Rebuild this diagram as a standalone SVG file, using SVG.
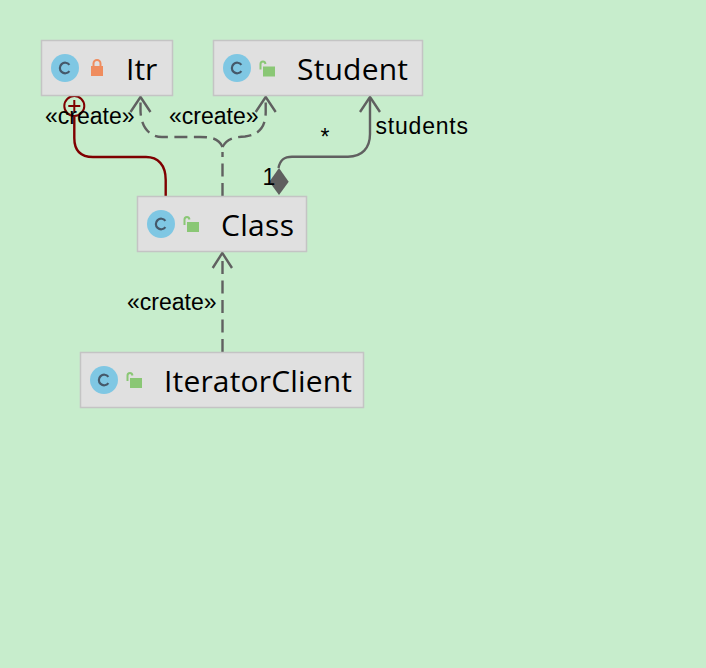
<svg xmlns="http://www.w3.org/2000/svg" width="706" height="668" viewBox="0 0 706 668">
<style>
.box{fill:#e0e0e0;stroke:#c4c4c4;stroke-width:1.5}
.title{font-family:"Open Sans","Noto Sans","Liberation Sans",sans-serif;font-size:30px;fill:#000}
.lbl{font-family:"Liberation Sans",Arial,sans-serif;font-size:23px;fill:#000}
.dep{fill:none;stroke:#606060;stroke-width:2.4;stroke-dasharray:13 6.5}
.sol{fill:none;stroke:#606060;stroke-width:2.4}
.head{fill:none;stroke:#606060;stroke-width:2.4}
.inner{fill:none;stroke:#7f0000;stroke-width:2.4}
</style>
<defs>
<g id="cicon">
<circle cx="0" cy="0" r="14" fill="#7fc7e3"/>
<path d="M4.400 -3.200A5.300 5.300 0 1 0 4.400 3.200" fill="none" stroke="#45596a" stroke-width="2.200"/>
</g>
<g id="open">
<rect x="0" y="0" width="12" height="10" fill="#8ac775"/>
<path d="M-2.500 3V-2.500Q-2.500 -5 0 -5Q2 -5 2.500 -2.500" fill="none" stroke="#8ac775" stroke-width="2"/>
</g>
<g id="lock">
<rect x="0" y="0" width="12" height="10" fill="#ef8c5e"/>
<path d="M2.500 0V-2.500A3.500 3.500 0 0 1 9.500 -2.500V0" fill="none" stroke="#ef8c5e" stroke-width="2"/>
</g>
</defs>
<rect width="706" height="668" fill="#c7edcc"/>
<g id="connectors">
<path class="inner" d="M74.300 117V138C74.300 150 80 157 93 157H146C158 157 165.700 165 165.700 180V196"/>
<circle cx="74.300" cy="106" r="10" fill="none" stroke="#7f0000" stroke-width="2"/>
<path d="M74.300 100V112M68.300 106H80.300" fill="none" stroke="#7f0000" stroke-width="2"/>
<path class="dep" d="M222.500 196V152"/>
<path class="dep" d="M222.500 147C220 141 216 137 200 137H162C148 137 140.500 125 140.500 110V97"/>
<path class="dep" d="M222.500 147C226 140 232 137 245 136.500C258 135 265.700 128 265.700 112V97"/>
<path class="head" d="M130.500 112L140.500 97L150.500 112"/>
<path class="head" d="M255.700 112L265.700 97L275.700 112"/>
<path class="sol" d="M278.500 168C280 160 284 156.700 292 156.700H348C362 156.700 370 148 370 134V98"/>
<path class="head" d="M360 112L370 97L380 112"/>
<path d="M279 168L288.700 181.700L279 195L269.300 181.700Z" fill="#5f5f5f"/>
<path class="dep" d="M222.500 352V254"/>
<path class="head" d="M212.700 268L222.300 253L232 268"/>
</g>
<g id="node-itr">
<rect class="box" x="41.500" y="40.500" width="131" height="55"/>
<use href="#cicon" x="65" y="68"/>
<use href="#lock" x="91" y="66"/>
<text class="title" x="126" y="80">Itr</text>
</g>
<g id="node-student">
<rect class="box" x="213.500" y="40.500" width="209" height="55"/>
<use href="#cicon" x="237" y="68"/>
<use href="#open" x="263" y="66.500"/>
<text class="title" x="297" y="80" textLength="111">Student</text>
</g>
<g id="node-class">
<rect class="box" x="137.500" y="196.500" width="169" height="55"/>
<use href="#cicon" x="161" y="224"/>
<use href="#open" x="187" y="222"/>
<text class="title" x="221" y="236" textLength="73">Class</text>
</g>
<g id="node-iteratorclient">
<rect class="box" x="80.500" y="352.500" width="283" height="55"/>
<use href="#cicon" x="104" y="380"/>
<use href="#open" x="130" y="378"/>
<text class="title" x="164" y="392" textLength="188">IteratorClient</text>
</g>
<g id="labels">
<text class="lbl" x="45" y="123.500">«create»</text>
<text class="lbl" x="169" y="123.500">«create»</text>
<text class="lbl" x="127" y="309.500">«create»</text>
<text class="lbl" x="375.500" y="134" textLength="92.500">students</text>
<text class="lbl" x="320.500" y="145">*</text>
<text class="lbl" x="262.500" y="184.500">1</text>
</g>
</svg>
